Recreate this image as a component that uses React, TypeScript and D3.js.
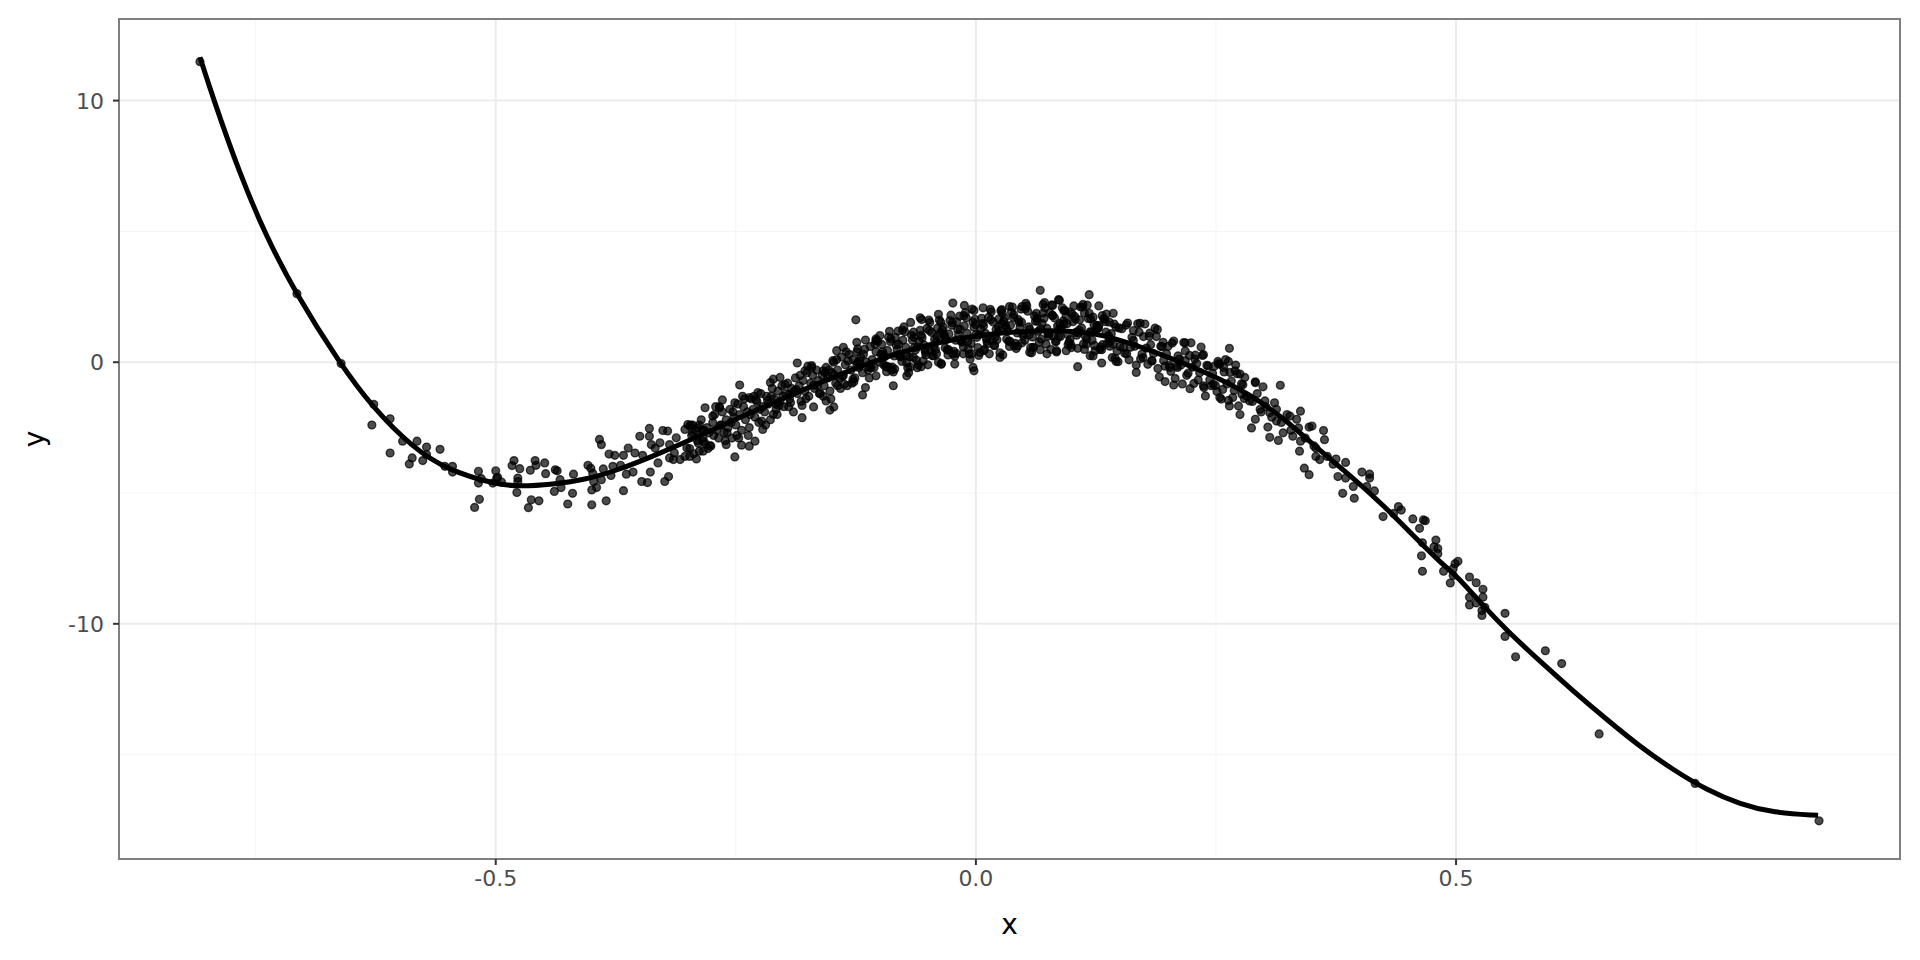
import React from 'react';
import * as d3 from 'd3';

type Pt = [number, number];

// tick values / labels
const xTicks = [-0.5, 0, 0.5];
const xTickLabels = ['-0.5', '0.0', '0.5'];
const xMinor = [-0.75, -0.25, 0.25, 0.75];
const yTicks = [-10, 0, 10];
const yTickLabels = ['-10', '0', '10'];
const yMinor = [-15, -5, 5];

const tailLeft: Pt[] = [
  [-0.808, 11.49], [-0.707, 2.62], [-0.661, -0.05], [-0.627, -1.61], [-0.610, -2.16], [-0.629, -2.40],
  [-0.610, -3.47], [-0.597, -3.02], [-0.582, -3.02], [-0.572, -3.24], [-0.558, -3.33], [-0.587, -3.66],
  [-0.590, -3.89], [-0.576, -3.76], [-0.572, -3.53], [-0.553, -3.98], [-0.545, -3.98], [-0.545, -4.20],
  [-0.518, -4.17], [-0.518, -4.62], [-0.515, -4.45], [-0.517, -5.24], [-0.522, -5.55], [-0.500, -4.15],
  [-0.499, -4.43],
];

const trough: Pt[] = [
  [-0.498, -4.40], [-0.503, -4.62], [-0.494, -4.58], [-0.481, -3.76], [-0.483, -3.95], [-0.475, -4.07],
  [-0.477, -4.43], [-0.477, -4.56], [-0.478, -4.98], [-0.464, -4.13], [-0.459, -3.76], [-0.458, -3.94],
  [-0.449, -3.85], [-0.448, -4.26], [-0.463, -5.26], [-0.466, -5.56], [-0.455, -5.30], [-0.438, -4.11],
  [-0.436, -4.15], [-0.433, -4.49], [-0.439, -4.94], [-0.432, -4.79], [-0.419, -4.28], [-0.420, -5.01],
  [-0.425, -5.42], [-0.404, -3.94], [-0.401, -4.05], [-0.399, -4.24], [-0.398, -4.56], [-0.400, -4.88],
  [-0.395, -4.79], [-0.400, -5.45], [-0.392, -2.95], [-0.390, -3.15], [-0.388, -4.08], [-0.390, -4.49],
  [-0.385, -5.30], [-0.382, -3.51], [-0.376, -3.56], [-0.378, -3.98], [-0.380, -4.33], [-0.367, -3.56],
  [-0.370, -3.94], [-0.362, -3.28], [-0.364, -4.28], [-0.367, -4.91], [-0.355, -3.47], [-0.357, -4.20],
  [-0.350, -2.83], [-0.347, -3.56], [-0.348, -4.56], [-0.342, -4.60], [-0.339, -4.20], [-0.340, -2.53],
  [-0.340, -2.83], [-0.338, -3.15], [-0.334, -3.28], [-0.329, -3.08], [-0.331, -3.85], [-0.326, -2.61],
  [-0.321, -2.63], [-0.319, -3.15], [-0.324, -4.56], [-0.320, -4.37], [-0.319, -3.66], [-0.312, -2.89],
  [-0.314, -3.47], [-0.315, -3.72], [-0.308, -3.72], [-0.303, -2.57], [-0.300, -2.38], [-0.301, -3.28],
  [-0.303, -3.60], [-0.295, -2.70], [-0.288, -2.40], [-0.284, -3.02], [-0.284, -3.40], [-0.282, -1.74],
];

const riseOuter: Pt[] = [
  [-0.125, 1.62], [-0.246, -0.87], [-0.264, -1.44], [-0.251, -3.62], [-0.244, -3.17], [-0.236, -3.21],
  [-0.230, -3.02], [-0.260, -3.15], [-0.298, -3.60], [-0.186, -0.03], [-0.181, -2.12], [-0.169, -1.71],
  [-0.156, -1.48], [-0.152, -1.83], [-0.148, -1.71], [-0.118, -1.25], [-0.115, -0.97], [-0.138, 0.57],
  [-0.145, 0.44], [-0.149, 0.06], [-0.124, 0.76], [-0.123, 0.51], [-0.104, 0.83], [-0.100, 1.02],
  [-0.214, -0.78], [-0.204, -0.58], [-0.227, -1.16], [-0.236, -1.35], [-0.274, -2.06], [-0.289, -2.51],
  [-0.298, -2.44], [-0.267, -1.74], [-0.251, -1.55], [-0.222, -2.57], [-0.211, -1.99], [-0.208, -1.61],
  [-0.194, -1.22], [-0.178, -0.33], [-0.171, -0.13], [-0.159, -0.33], [-0.144, -0.90], [-0.137, -0.84],
  [-0.128, -0.65], [-0.124, -0.07], [-0.111, -0.20], [-0.104, -0.52], [-0.097, 0.18], [-0.090, -0.20],
];

const riseCore: Pt[] = [
  [-0.298, -3.3], [-0.296, -2.8], [-0.294, -3.5], [-0.292, -2.6], [-0.290, -3.0], [-0.288, -3.4], [-0.286, -2.2],
  [-0.284, -2.9], [-0.282, -3.1], [-0.280, -2.5], [-0.278, -2.7], [-0.276, -3.2], [-0.274, -2.3], [-0.272, -2.0],
  [-0.270, -2.6], [-0.268, -2.9], [-0.266, -2.4], [-0.264, -1.9], [-0.262, -2.7], [-0.260, -2.2], [-0.258, -2.5],
  [-0.256, -1.8], [-0.254, -2.9], [-0.252, -2.1], [-0.250, -2.4], [-0.248, -1.6], [-0.246, -2.0], [-0.244, -2.6],
  [-0.242, -1.7], [-0.240, -2.2], [-0.238, -1.9], [-0.236, -2.5], [-0.234, -1.4], [-0.232, -1.8], [-0.230, -2.1],
  [-0.228, -1.5], [-0.226, -2.3], [-0.224, -1.2], [-0.222, -1.7], [-0.220, -1.9], [-0.218, -1.3], [-0.216, -1.6],
  [-0.214, -2.2], [-0.212, -1.0], [-0.210, -1.4], [-0.208, -1.8], [-0.206, -1.1], [-0.204, -1.5], [-0.202, -0.9],
  [-0.200, -1.7], [-0.198, -1.2], [-0.196, -0.8], [-0.194, -1.4], [-0.192, -1.0], [-0.190, -1.9], [-0.188, -0.6],
  [-0.186, -1.2], [-0.184, -0.9], [-0.182, -1.5], [-0.180, -0.7], [-0.178, -1.1], [-0.176, -0.4], [-0.174, -1.3],
  [-0.172, -0.8], [-0.170, -0.5], [-0.168, -1.0], [-0.166, -0.3], [-0.164, -0.7], [-0.162, -1.2], [-0.160, -0.5],
  [-0.158, -0.9], [-0.156, -0.2], [-0.154, -0.6], [-0.152, -1.1], [-0.150, -0.4], [-0.148, 0.0], [-0.146, -0.8],
  [-0.144, -0.3], [-0.142, -0.6], [-0.140, 0.2], [-0.138, -0.5], [-0.136, -0.1], [-0.134, -0.9], [-0.132, 0.3],
  [-0.130, -0.3], [-0.128, 0.1], [-0.126, -0.6], [-0.124, 0.4], [-0.122, -0.2], [-0.120, 0.2], [-0.118, -0.4],
  [-0.116, 0.5], [-0.114, 0.0], [-0.112, -0.3], [-0.110, 0.6], [-0.108, 0.1], [-0.106, -0.2], [-0.104, 0.4],
  [-0.102, 0.8], [-0.100, 0.0],
  [-0.297, -2.4], [-0.291, -3.7], [-0.285, -2.6], [-0.279, -3.3], [-0.273, -2.8], [-0.267, -1.7], [-0.261, -3.0],
  [-0.255, -2.3], [-0.249, -2.8], [-0.243, -1.3], [-0.237, -2.8], [-0.231, -1.3], [-0.225, -1.8], [-0.219, -2.4],
  [-0.213, -1.3], [-0.207, -2.0], [-0.201, -1.3], [-0.195, -1.7], [-0.189, -1.1], [-0.183, -0.5], [-0.177, -1.4],
  [-0.171, -0.2], [-0.165, -0.9], [-0.159, -1.3], [-0.153, -0.3], [-0.147, -0.5], [-0.141, -1.0], [-0.135, 0.4],
  [-0.129, -0.8], [-0.123, 0.0], [-0.117, 0.3], [-0.111, -0.6], [-0.105, 0.7], [-0.099, 0.3],
  [-0.295, -2.4], [-0.289, -3.1], [-0.283, -2.6], [-0.277, -3.2], [-0.271, -1.7], [-0.265, -2.4], [-0.259, -2.7],
  [-0.253, -1.9], [-0.247, -2.9], [-0.241, -1.4], [-0.235, -2.0], [-0.229, -1.45], [-0.223, -2.25], [-0.217, -1.45],
  [-0.211, -0.65], [-0.205, -1.65], [-0.199, -0.85], [-0.193, -1.55], [-0.187, -1.05], [-0.181, -1.65], [-0.175, -0.15],
  [-0.169, -0.88], [-0.163, -1.2], [-0.157, -0.4], [-0.151, -1.4], [-0.145, 0.1], [-0.139, -0.55], [-0.133, 0.05],
  [-0.127, -0.75], [-0.121, 0.05], [-0.115, 0.85], [-0.109, -0.2],
];

const crestOuter: Pt[] = [
  [0.067, 2.75], [-0.024, 2.26], [-0.012, 2.17], [-0.002, 1.98], [-0.058, 1.70], [-0.039, 1.83], [0.086, 2.39],
  [0.080, 2.17], [0.070, 2.21], [0.048, 2.13], [0.035, 2.13], [0.027, 2.01], [-0.003, -0.20], [-0.002, -0.33],
  [-0.036, -0.05], [-0.022, -0.07], [-0.072, -0.52], [-0.086, -0.90], [-0.057, -0.17], [-0.104, 0.89],
  [0.025, 0.18], [0.056, 0.38], [0.074, 0.32], [0.084, 0.44], [0.008, 0.44], [-0.013, 0.32], [-0.065, 0.18],
  [-0.041, 0.32],
];

const crestCore: Pt[] = [
  [-0.098, 0.68], [-0.094, -0.17], [-0.090, 1.18], [-0.086, -0.37], [-0.082, 0.48], [-0.078, 0.22], [-0.074, 1.16],
  [-0.070, -0.40], [-0.066, 0.84], [-0.062, 0.08], [-0.058, 1.22], [-0.054, 0.66], [-0.050, -0.10], [-0.046, 1.14],
  [-0.042, 0.48], [-0.038, 1.61], [-0.034, 1.34], [-0.030, 0.47], [-0.026, 1.80], [-0.022, 0.23], [-0.018, 1.06],
  [-0.014, 0.78], [-0.010, 1.70], [-0.006, 0.12], [-0.002, 1.34], [0.002, 0.56], [0.006, 1.68], [0.010, 1.10],
  [0.014, 0.32], [0.018, 1.54], [0.022, 0.86], [0.026, 1.97], [0.030, 1.69], [0.034, 0.80], [0.038, 2.11],
  [0.042, 0.52], [0.046, 1.33], [0.050, 1.04], [0.054, 1.95], [0.058, 0.36], [0.062, 1.57], [0.066, 0.78],
  [0.070, 1.88], [0.074, 1.29], [0.078, 0.49], [0.082, 1.69], [0.086, 0.98], [0.090, 2.08], [0.094, 1.77],
  [0.098, 0.86], [0.102, 2.15], [0.106, 0.53], [0.110, 1.31], [0.114, 0.99], [0.118, 1.87], [0.122, 0.24],
  [0.126, 1.41], [0.130, 0.58], [0.134, 1.65], [0.138, 1.02], [0.142, 0.18], [0.146, 1.34], [0.150, 0.60],
  [-0.096, -0.10], [-0.092, 0.45], [-0.088, -0.30], [-0.084, 0.95], [-0.080, 0.30], [-0.076, 0.84], [-0.072, -0.02],
  [-0.068, 1.52], [-0.064, 0.56], [-0.060, -0.10], [-0.056, 0.94], [-0.052, 0.28], [-0.048, 1.52], [-0.044, 0.56],
  [-0.040, 1.30], [-0.036, -0.08], [-0.032, 0.55], [-0.028, 1.08], [-0.024, 0.31], [-0.020, 1.55], [-0.016, 0.87],
  [-0.012, 1.39], [-0.008, 0.51], [-0.004, 2.03], [0.000, 1.05], [0.004, 0.37], [0.008, 1.39], [0.012, 0.71],
  [0.016, 1.93], [0.020, 0.95], [0.024, 1.66], [0.028, 0.28], [0.032, 0.89], [0.036, 1.41], [0.040, 0.62],
  [0.044, 1.63], [0.048, 0.74], [0.052, 2.25], [0.056, 1.26], [0.060, 0.57], [0.064, 1.57], [0.068, 0.88],
  [0.072, 2.08], [0.076, 1.09], [0.080, 1.79], [0.084, 0.39], [0.088, 0.98], [0.092, 1.47], [0.096, 0.67],
  [0.100, 1.85], [0.104, 1.14], [0.108, 1.62], [0.112, 0.70], [0.116, 2.18], [0.120, 1.15], [0.124, 0.43],
  [0.128, 1.40], [0.132, 0.67], [0.136, 1.84], [0.140, 0.80], [0.144, 1.46], [0.148, 0.02],
  [-0.097, 0.39], [-0.093, -0.36], [-0.089, 0.79], [-0.085, 0.24], [-0.081, 1.19], [-0.077, 0.03], [-0.073, 0.57],
  [-0.069, 0.21], [-0.065, 1.15], [-0.061, -0.21], [-0.057, 1.03], [-0.053, 0.47], [-0.049, 1.61], [-0.045, 0.25],
  [-0.041, 0.79], [-0.037, 1.12], [-0.033, 1.05], [-0.029, 0.28], [-0.025, 1.41], [-0.021, 0.84], [-0.017, 1.76],
  [-0.013, 0.58], [-0.009, 1.10], [-0.005, 0.72], [-0.001, 1.64], [0.003, 0.26], [0.007, 1.48], [0.011, 0.90],
  [0.015, 2.02], [0.019, 0.64], [0.023, 1.16], [0.027, 1.47], [0.031, 1.39], [0.035, 0.60], [0.039, 1.71],
  [0.043, 1.12], [0.047, 2.03], [0.051, 0.84], [0.055, 1.35], [0.059, 0.96], [0.063, 1.87], [0.067, 0.48],
  [0.071, 1.68], [0.075, 1.09], [0.079, 2.19], [0.083, 0.79], [0.087, 1.28], [0.091, 1.58], [0.095, 1.47],
  [0.099, 0.66], [0.103, 1.75], [0.107, 1.13], [0.111, 2.11], [0.115, 0.69], [0.119, 1.16], [0.123, 1.44],
  [0.127, 1.31], [0.131, 0.48], [0.135, 1.55], [0.139, 0.91], [0.143, 1.87], [0.147, 0.43],
  [-0.095, 0.21], [-0.091, 0.96], [-0.087, -0.19], [-0.083, 0.66], [-0.079, 0.21], [-0.075, 1.35], [-0.071, -0.21],
  [-0.067, 1.03], [-0.063, 0.47], [-0.059, 0.81], [-0.055, 0.05], [-0.051, 1.29], [-0.047, 0.43], [-0.043, 0.87],
  [-0.039, 0.00], [-0.035, 1.23], [-0.031, 0.86], [-0.027, 1.59], [-0.023, 0.42], [-0.019, 1.25], [-0.015, 0.77],
  [-0.011, 1.89], [-0.007, 0.31], [-0.003, 1.53], [0.001, 0.95], [0.005, 1.27], [0.009, 0.49], [0.013, 1.71],
  [0.017, 0.83], [0.021, 1.25], [0.025, 0.36], [0.029, 1.58], [0.033, 1.19], [0.037, 1.91], [0.041, 0.72],
  [0.045, 1.53], [0.049, 1.04], [0.053, 2.15], [0.057, 0.56], [0.061, 1.77], [0.065, 1.18], [0.069, 1.48],
  [0.073, 0.69], [0.077, 1.89], [0.081, 0.99], [0.085, 1.38], [0.089, 1.28], [0.093, 1.97], [0.097, 0.76],
  [0.101, 1.55], [0.105, 1.03], [0.109, 2.11], [0.113, 0.49], [0.117, 1.67], [0.121, 0.84], [0.125, 1.22],
  [0.129, 0.49], [0.133, 1.66], [0.137, 0.73], [0.141, 1.09], [0.145, 0.15], [0.149, 1.31],
  [-0.0965, 0.29], [-0.0925, -0.16], [-0.0885, 0.89], [-0.0845, -0.26], [-0.0805, 0.69], [-0.0765, 1.23],
  [-0.0725, 0.27], [-0.0685, -0.19], [-0.0645, 0.95], [-0.0605, 0.59], [-0.0565, 1.63], [-0.0525, 0.37],
  [-0.0485, 1.21], [-0.0445, 0.25], [-0.0405, 0.99], [-0.0365, 1.52], [-0.0325, 0.95], [-0.0285, 0.48],
  [-0.0245, 1.51], [-0.0205, 0.34], [-0.0165, 1.26], [-0.0125, 1.78], [-0.0085, 0.80], [-0.0045, 0.32],
  [-0.0005, 1.44], [0.0035, 1.06], [0.0075, 2.08], [0.0115, 0.80], [0.0155, 1.62], [0.0195, 0.64],
  [0.0235, 1.36], [0.0275, 1.87], [0.0315, 1.29], [0.0355, 0.80], [0.0395, 1.81], [0.0435, 0.62],
  [0.0475, 1.53], [0.0515, 2.04], [0.0555, 1.05], [0.0595, 0.56], [0.0635, 1.67], [0.0675, 1.28],
  [0.0715, 2.28], [0.0755, 0.99], [0.0795, 1.79], [0.0835, 0.79], [0.0875, 1.48], [0.0915, 1.98],
  [0.0955, 1.07], [0.0995, 0.56], [0.1035, 1.65], [0.1075, 1.23], [0.1115, 2.21], [0.1155, 0.89],
  [0.1195, 1.66], [0.1235, 0.64], [0.1275, 1.31], [0.1315, 1.78], [0.1355, 1.15], [0.1395, 0.61],
];

const fallOuter: Pt[] = [
  [0.118, 2.58], [0.128, 2.15], [0.087, 2.37], [0.098, 1.92], [0.113, 1.88], [0.122, 1.72], [0.139, 1.53],
  [0.171, 1.49], [0.189, 1.25], [0.164, 1.21], [0.181, 1.11], [0.195, 0.76], [0.218, 0.74], [0.237, 0.29],
  [0.264, 0.53], [0.263, 0.03], [0.252, 0.03], [0.106, -0.17], [0.131, -0.03], [0.146, 0.03], [0.167, -0.39],
  [0.119, 0.25], [0.094, 0.44], [0.197, -0.74], [0.206, -0.87], [0.202, -0.20], [0.210, -0.20], [0.223, -1.01],
  [0.237, -0.90], [0.228, 0.12], [0.254, -1.35], [0.264, -1.67], [0.280, -0.58], [0.291, -0.78], [0.275, -0.45],
  [0.270, -0.33], [0.258, -0.20], [0.247, -0.84], [0.277, -1.22], [0.285, -1.48], [0.183, 0.06], [0.174, 0.18],
  [0.157, 0.32], [0.143, 0.70], [0.218, 0.06],
];

const fallCore: Pt[] = [
  [0.152, 1.28], [0.155, 0.34], [0.158, 1.50], [0.161, 0.57], [0.164, 0.83], [0.167, -0.11], [0.170, 1.15],
  [0.173, 0.31], [0.176, 1.46], [0.179, -0.08], [0.182, 0.67], [0.185, 0.33], [0.188, 0.98], [0.191, -0.56],
  [0.194, 0.59], [0.197, -0.15], [0.200, 0.60], [0.203, -0.35], [0.206, 0.81], [0.209, -0.14], [0.212, 0.12],
  [0.215, -0.83], [0.218, 0.43], [0.221, -0.42], [0.224, 0.74], [0.227, -0.81], [0.230, -0.05], [0.233, -0.40],
  [0.236, 0.26], [0.239, -1.29], [0.242, -0.14], [0.245, -0.90], [0.248, -0.16], [0.251, -1.12], [0.254, -0.08],
  [0.257, -1.04], [0.260, 0.10], [0.263, -1.46], [0.266, -0.72], [0.269, -1.08], [0.272, -0.44], [0.275, -2.00],
  [0.278, -0.86],
  [0.1535, 0.56], [0.1565, 1.42], [0.1595, 0.09], [0.1625, 0.95], [0.1655, 0.61], [0.1685, 1.47], [0.1715, 0.13],
  [0.1745, 0.98], [0.1775, 0.54], [0.1805, 0.99], [0.1835, 0.05], [0.1865, 1.30], [0.1895, -0.24], [0.1925, 0.61],
  [0.1955, 0.07], [0.1985, 0.32], [0.2015, -0.12], [0.2045, 0.73], [0.2075, -0.62], [0.2105, 0.24], [0.2135, -0.11],
  [0.2165, 0.75], [0.2195, -0.50], [0.2225, 0.26], [0.2255, -0.19], [0.2285, 0.27], [0.2315, -0.68], [0.2345, 0.58],
  [0.2375, -0.97], [0.2405, -0.12], [0.2435, -0.67], [0.2465, -0.43], [0.2495, -0.89], [0.2525, -0.05], [0.2555, -1.41],
  [0.2585, -0.37], [0.2615, -0.83], [0.2645, -0.39], [0.2675, -1.35], [0.2705, -0.11], [0.2735, -1.67], [0.2765, -0.83],
  [0.2795, -1.39],
  [0.282, -1.3], [0.288, -1.5], [0.293, -1.2], [0.297, -1.9], [0.302, -1.7], [0.308, -2.1], [0.313, -1.8],
  [0.318, -2.3], [0.324, -2.0], [0.328, -2.6], [0.343, -2.9], [0.352, -3.2], [0.366, -3.6], [0.372, -3.9],
];

const slope: Pt[] = [
  [0.317, -0.88], [0.291, -0.75], [0.299, -0.94], [0.301, -1.48], [0.311, -1.55], [0.287, -2.51], [0.291, -2.18],
  [0.296, -1.80], [0.306, -1.93], [0.313, -2.25], [0.304, -2.48], [0.306, -2.87], [0.315, -2.99], [0.320, -2.70],
  [0.327, -2.06], [0.338, -1.87], [0.334, -2.18], [0.336, -2.51], [0.330, -2.83], [0.338, -3.02], [0.337, -3.40],
  [0.347, -2.48], [0.350, -2.44], [0.362, -2.61], [0.363, -2.96], [0.354, -3.28], [0.354, -3.60], [0.358, -3.72],
  [0.342, -4.05], [0.347, -4.30], [0.375, -3.70], [0.385, -3.83], [0.377, -4.37], [0.385, -4.43], [0.382, -5.01],
  [0.394, -5.20], [0.393, -4.75], [0.402, -4.20], [0.410, -4.28], [0.410, -4.43], [0.407, -4.75], [0.415, -4.92],
  [0.424, -5.90], [0.440, -5.52], [0.443, -5.65], [0.435, -5.78], [0.455, -5.99], [0.466, -6.03],
];

const tailRight: Pt[] = [
  [0.468, -6.06], [0.462, -6.35], [0.465, -6.90], [0.464, -7.40], [0.465, -7.99], [0.479, -6.80], [0.477, -7.06],
  [0.481, -7.12], [0.481, -7.32], [0.487, -7.99], [0.494, -8.44], [0.497, -8.15], [0.497, -7.89], [0.499, -7.70],
  [0.502, -7.61], [0.514, -8.21], [0.521, -8.43], [0.528, -8.68], [0.528, -8.98], [0.514, -8.98], [0.514, -9.28],
  [0.521, -9.20], [0.527, -9.49], [0.527, -9.68], [0.530, -9.37], [0.551, -9.60], [0.551, -10.48], [0.562, -11.26],
  [0.593, -11.03], [0.610, -11.52], [0.649, -14.21], [0.749, -16.10], [0.878, -17.53],
];

// fitted smooth
const smoothLine: Pt[] = [
  [-0.808, 11.66], [-0.794, 10.06], [-0.767, 7.24], [-0.739, 4.80], [-0.708, 2.62], [-0.663, -0.01],
  [-0.628, -1.74], [-0.586, -3.28], [-0.551, -4.11], [-0.499, -4.68], [-0.475, -4.75], [-0.441, -4.67],
  [-0.406, -4.49], [-0.371, -4.10], [-0.337, -3.60], [-0.308, -3.15], [-0.239, -1.99], [-0.170, -0.90],
  [-0.128, -0.26], [-0.065, 0.57], [0.004, 1.08], [0.074, 1.24], [0.129, 1.15], [0.192, 0.32],
  [0.244, -0.45], [0.285, -1.22], [0.320, -2.12], [0.355, -3.28], [0.389, -4.30], [0.424, -5.45],
  [0.462, -6.87], [0.483, -7.63], [0.5005, -8.15], [0.528, -9.30], [0.553, -10.26], [0.587, -11.42],
  [0.622, -12.57], [0.657, -13.66], [0.691, -14.68], [0.726, -15.58], [0.761, -16.35], [0.796, -16.90],
  [0.830, -17.22], [0.877, -17.32],
];

const allPoints: Pt[] = [
  ...tailLeft, ...trough, ...riseOuter, ...riseCore, ...crestOuter, ...crestCore,
  ...fallOuter, ...fallCore, ...slope, ...tailRight,
];

const W = 1920;
const H = 960;
const panel = { left: 119, right: 1900, top: 19, bottom: 859 };
const font = '"DejaVu Sans", sans-serif';

function expand(vals: number[]): [number, number] {
  const [lo, hi] = d3.extent(vals) as [number, number];
  const pad = (hi - lo) * 0.05;
  return [lo - pad, hi + pad];
}

export default function App() {
  const both = [...allPoints, ...smoothLine];
  const x = d3.scaleLinear().domain(expand(both.map(d => d[0]))).range([panel.left, panel.right]);
  const y = d3.scaleLinear().domain(expand(both.map(d => d[1]))).range([panel.bottom, panel.top]);

  const line = d3.line<Pt>()
    .x(d => x(d[0]))
    .y(d => y(d[1]))
    .curve(d3.curveBasis);

  return (
    <svg width={W} height={H} style={{ position: 'absolute', left: 0, top: 0, background: '#fff' }}>
      <rect x={0} y={0} width={W} height={H} fill="#fff" />
      {/* grid */}
      {xMinor.map(v => (
        <line key={'xm' + v} x1={x(v)} x2={x(v)} y1={panel.top} y2={panel.bottom} stroke="#f5f5f5" strokeWidth={1} />
      ))}
      {yMinor.map(v => (
        <line key={'ym' + v} x1={panel.left} x2={panel.right} y1={y(v)} y2={y(v)} stroke="#f5f5f5" strokeWidth={1} />
      ))}
      {xTicks.map(v => (
        <line key={'xg' + v} x1={x(v)} x2={x(v)} y1={panel.top} y2={panel.bottom} stroke="#ebebeb" strokeWidth={2} />
      ))}
      {yTicks.map(v => (
        <line key={'yg' + v} x1={panel.left} x2={panel.right} y1={y(v)} y2={y(v)} stroke="#ebebeb" strokeWidth={2} />
      ))}

      {/* points */}
      <g fill="#000" fillOpacity={0.7} stroke="#000" strokeOpacity={0.7} strokeWidth={1.4}>
        {allPoints.map((d, i) => (
          <circle key={i} cx={x(d[0])} cy={y(d[1])} r={3.9} />
        ))}
      </g>

      {/* smooth */}
      <path d={line(smoothLine) ?? ''} fill="none" stroke="#000" strokeWidth={5} strokeLinecap="butt" />

      {/* panel border */}
      <rect x={panel.left} y={panel.top} width={panel.right - panel.left} height={panel.bottom - panel.top}
        fill="none" stroke="#7f7f7f" strokeWidth={2} />

      {/* axes */}
      {xTicks.map((v, i) => (
        <g key={'xt' + v}>
          <line x1={x(v)} x2={x(v)} y1={panel.bottom} y2={panel.bottom + 6} stroke="#333" strokeWidth={2} />
          <text x={x(v)} y={886} textAnchor="middle" fontFamily={font} fontSize={22} fill="#4d4d4d">{xTickLabels[i]}</text>
        </g>
      ))}
      {yTicks.map((v, i) => (
        <g key={'yt' + v}>
          <line x1={panel.left - 6} x2={panel.left} y1={y(v)} y2={y(v)} stroke="#333" strokeWidth={2} />
          <text x={104} y={y(v)} dy="0.36em" textAnchor="end" fontFamily={font} fontSize={22} fill="#4d4d4d">{yTickLabels[i]}</text>
        </g>
      ))}
      <text x={(panel.left + panel.right) / 2} y={934} textAnchor="middle" fontFamily={font} fontSize={28} fill="#000">x</text>
      <text transform={`translate(44,${(panel.top + panel.bottom) / 2}) rotate(-90)`} textAnchor="middle"
        fontFamily={font} fontSize={28} fill="#000">y</text>
    </svg>
  );
}
